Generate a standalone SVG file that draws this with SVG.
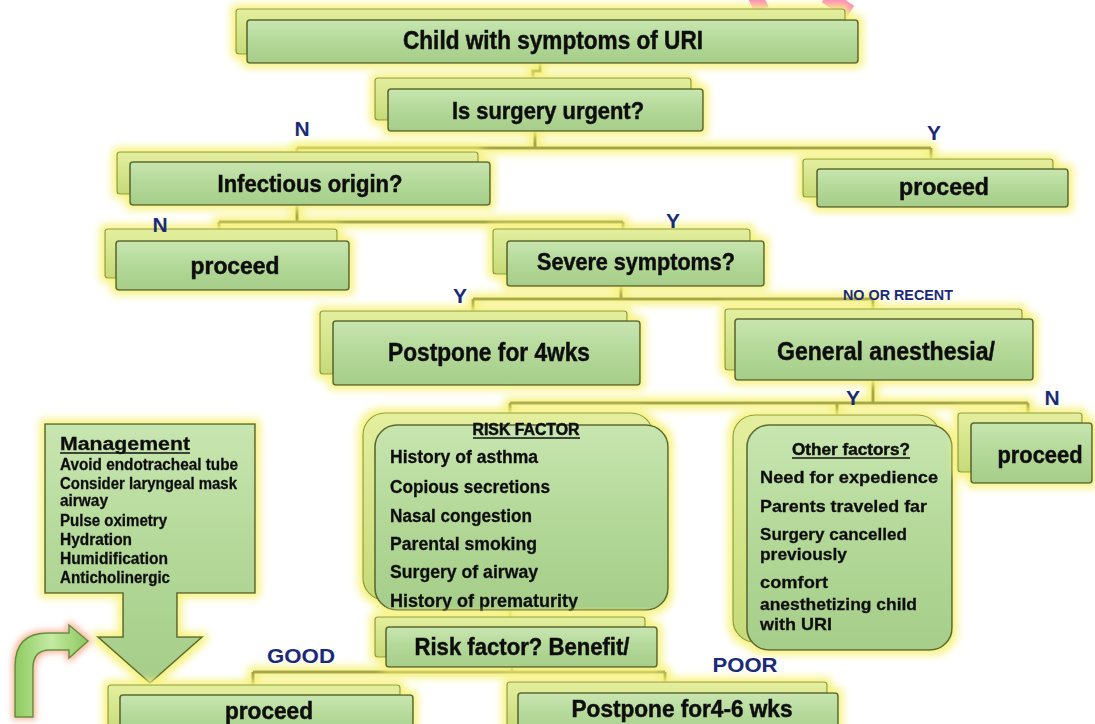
<svg xmlns="http://www.w3.org/2000/svg" width="1095" height="724" viewBox="0 0 1095 724">
<defs>
<linearGradient id="gf" x1="0" y1="0" x2="0" y2="1">
<stop offset="0" stop-color="#c8e6b0"/><stop offset="0.5" stop-color="#b3d898"/><stop offset="1" stop-color="#a6cd89"/>
</linearGradient>
<linearGradient id="gb" x1="0" y1="0" x2="0" y2="1">
<stop offset="0" stop-color="#e4ef9e"/><stop offset="1" stop-color="#c6da78"/>
</linearGradient>
<linearGradient id="ga" x1="0" y1="0" x2="1" y2="0">
<stop offset="0" stop-color="#8fcb62"/><stop offset="0.5" stop-color="#c4eaa3"/><stop offset="1" stop-color="#8cc75e"/>
</linearGradient>
<filter id="glow" x="-10%" y="-20%" width="120%" height="140%">
<feMorphology in="SourceAlpha" operator="dilate" radius="4" result="d"/>
<feGaussianBlur in="d" stdDeviation="4.5" result="b"/>
<feFlood flood-color="#f6f27c"/>
<feComposite in2="b" operator="in" result="g"/>
<feMerge><feMergeNode in="g"/><feMergeNode in="SourceGraphic"/></feMerge>
</filter>
<filter id="oglow" x="-30%" y="-30%" width="160%" height="160%">
<feMorphology in="SourceAlpha" operator="dilate" radius="2" result="d"/>
<feGaussianBlur in="d" stdDeviation="3" result="b"/>
<feFlood flood-color="#f7b49a"/>
<feComposite in2="b" operator="in" result="g"/>
<feMerge><feMergeNode in="g"/><feMergeNode in="SourceGraphic"/></feMerge>
</filter>
<style>
.bk{fill:url(#gb);stroke:#8c9a3c;stroke-width:1.2}
.fr{fill:url(#gf);stroke:#5d6a32;stroke-width:1.6}
.t{font-family:"Liberation Sans",Arial,sans-serif;font-weight:bold;fill:#111;stroke:#111;stroke-width:0.5;text-anchor:middle}
.s{font-family:"Liberation Sans",Arial,sans-serif;font-weight:bold;fill:#111;stroke:#111;stroke-width:0.3}
.lb{font-family:"Liberation Sans",Arial,sans-serif;font-weight:bold;fill:#1b2a78;text-anchor:middle}
.cn{fill:none;stroke:#a4a646;stroke-width:3}
.ul{stroke:#111;stroke-width:1.3}
</style>
</defs>
<rect width="1095" height="724" fill="#ffffff"/>
<g id="pink" stroke="#ff80c4" stroke-width="15" stroke-linecap="butt" fill="none">
<line x1="755" y1="-4" x2="762" y2="10"/>
<line x1="826" y1="-4" x2="850" y2="12"/>
</g>
<g id="connectors" filter="url(#glow)">
<path class="cn" d="M540 63 V71 H533 V78"/>
<path class="cn" d="M535 131 V148 M297 148 H931 M297 148 V153 M931 148 V160"/>
<path class="cn" d="M297 205 V222 M219 222 H623 M219 222 V230 M623 222 V230"/>
<path class="cn" d="M621 286 V299 M473 299 H873 M473 299 V312 M873 299 V310"/>
<path class="cn" d="M873 380 V403 M510 403 H1028 M510 403 V414 M837 403 V416 M1028 403 V414"/>
<path class="cn" d="M510 610 V618"/>
<path class="cn" d="M512 667 V672 M253 672 H665 M253 672 V686 M665 672 V683"/>
</g>
<g id="n-child" filter="url(#glow)">
<rect class="bk" x="236" y="9" width="609" height="45" rx="3"/>
<rect class="fr" x="247" y="20" width="611" height="43" rx="3"/>
<text class="t" x="553" y="49" font-size="25" textLength="300" lengthAdjust="spacingAndGlyphs">Child with symptoms of URI</text>
</g>
<g id="n-urgent" filter="url(#glow)">
<rect class="bk" x="375" y="78" width="316" height="42" rx="3"/>
<rect class="fr" x="388" y="89" width="315" height="42" rx="3"/>
<text class="t" x="548" y="119" font-size="24" textLength="192" lengthAdjust="spacingAndGlyphs">Is surgery urgent?</text>
</g>
<g id="n-infect" filter="url(#glow)">
<rect class="bk" x="117" y="152" width="361" height="42" rx="3"/>
<rect class="fr" x="130" y="162" width="360" height="43" rx="3"/>
<text class="t" x="310" y="192" font-size="24" textLength="185" lengthAdjust="spacingAndGlyphs">Infectious origin?</text>
</g>
<g id="n-proceed1" filter="url(#glow)">
<rect class="bk" x="803" y="159" width="250" height="38" rx="3"/>
<rect class="fr" x="817" y="169" width="251" height="38" rx="3"/>
<text class="t" x="944" y="195" font-size="24" textLength="90" lengthAdjust="spacingAndGlyphs">proceed</text>
</g>
<g id="n-proceed2" filter="url(#glow)">
<rect class="bk" x="105" y="229" width="232" height="49" rx="3"/>
<rect class="fr" x="116" y="241" width="233" height="49" rx="3"/>
<text class="t" x="235" y="274" font-size="24" textLength="89" lengthAdjust="spacingAndGlyphs">proceed</text>
</g>
<g id="n-severe" filter="url(#glow)">
<rect class="bk" x="493" y="229" width="257" height="45" rx="3"/>
<rect class="fr" x="507" y="241" width="257" height="45" rx="3"/>
<text class="t" x="636" y="270" font-size="24" textLength="198" lengthAdjust="spacingAndGlyphs">Severe symptoms?</text>
</g>
<g id="n-postpone4" filter="url(#glow)">
<rect class="bk" x="320" y="311" width="307" height="63" rx="3"/>
<rect class="fr" x="333" y="321" width="307" height="64" rx="3"/>
<text class="t" x="489" y="361" font-size="26" textLength="202" lengthAdjust="spacingAndGlyphs">Postpone for 4wks</text>
</g>
<g id="n-ga" filter="url(#glow)">
<rect class="bk" x="725" y="309" width="297" height="61" rx="3"/>
<rect class="fr" x="735" y="319" width="298" height="61" rx="3"/>
<text class="t" x="886" y="360" font-size="26" textLength="218" lengthAdjust="spacingAndGlyphs">General anesthesia/</text>
</g>
<g id="n-risk" filter="url(#glow)">
<rect class="bk" x="363" y="413" width="290" height="187" rx="22"/>
<rect class="fr" x="375" y="425" width="293" height="185" rx="22"/>
<text class="t" x="526" y="435" font-size="16" textLength="107" lengthAdjust="spacingAndGlyphs">RISK FACTOR</text>
<line class="ul" x1="473" y1="438" x2="580" y2="438"/>
<text class="s" x="390" y="463" font-size="18" textLength="148" lengthAdjust="spacingAndGlyphs">History of asthma</text>
<text class="s" x="390" y="493" font-size="18" textLength="160" lengthAdjust="spacingAndGlyphs">Copious secretions</text>
<text class="s" x="390" y="522" font-size="18" textLength="142" lengthAdjust="spacingAndGlyphs">Nasal congestion</text>
<text class="s" x="390" y="550" font-size="18" textLength="147" lengthAdjust="spacingAndGlyphs">Parental smoking</text>
<text class="s" x="390" y="578" font-size="18" textLength="148" lengthAdjust="spacingAndGlyphs">Surgery of airway</text>
<text class="s" x="390" y="607" font-size="18" textLength="188" lengthAdjust="spacingAndGlyphs">History of prematurity</text>
</g>
<g id="n-other" filter="url(#glow)">
<rect class="bk" x="733" y="415" width="207" height="227" rx="22"/>
<rect class="fr" x="747" y="425" width="205" height="225" rx="22"/>
<text class="t" x="851" y="455" font-size="17" textLength="118" lengthAdjust="spacingAndGlyphs">Other factors?</text>
<line class="ul" x1="792" y1="458" x2="910" y2="458"/>
<text class="s" x="760" y="483" font-size="17" textLength="178" lengthAdjust="spacingAndGlyphs">Need  for expedience</text>
<text class="s" x="760" y="512" font-size="17" textLength="167" lengthAdjust="spacingAndGlyphs">Parents traveled far</text>
<text class="s" x="760" y="540" font-size="17" textLength="147" lengthAdjust="spacingAndGlyphs">Surgery cancelled</text>
<text class="s" x="760" y="560" font-size="17" textLength="87" lengthAdjust="spacingAndGlyphs">previously</text>
<text class="s" x="760" y="588" font-size="17" textLength="68" lengthAdjust="spacingAndGlyphs">comfort</text>
<text class="s" x="760" y="610" font-size="17" textLength="157" lengthAdjust="spacingAndGlyphs">anesthetizing child</text>
<text class="s" x="760" y="630" font-size="17" textLength="72" lengthAdjust="spacingAndGlyphs">with URI</text>
</g>
<g id="n-proceed3" filter="url(#glow)">
<rect class="bk" x="958" y="413" width="124" height="59" rx="3"/>
<rect class="fr" x="971" y="423" width="121" height="60" rx="3"/>
<text class="t" x="1040" y="463" font-size="24" textLength="85" lengthAdjust="spacingAndGlyphs">proceed</text>
</g>
<g id="n-benefit" filter="url(#glow)">
<rect class="bk" x="375" y="617" width="270" height="40" rx="3"/>
<rect class="fr" x="386" y="627" width="271" height="40" rx="3"/>
<text class="t" x="522" y="655" font-size="24" textLength="215" lengthAdjust="spacingAndGlyphs">Risk factor? Benefit/</text>
</g>
<g id="n-management" filter="url(#glow)">
<path class="fr" d="M45 424 H255 V593 H177 V637 H202 L150 683 L98 637 H123 V593 H45 Z"/>
<text class="s" x="60" y="450" font-size="18" textLength="130" lengthAdjust="spacingAndGlyphs">Management</text>
<line class="ul" x1="60" y1="453" x2="190" y2="453"/>
<text class="s" x="60" y="470" font-size="16" textLength="178" lengthAdjust="spacingAndGlyphs">Avoid endotracheal tube</text>
<text class="s" x="60" y="489" font-size="16" textLength="177" lengthAdjust="spacingAndGlyphs">Consider laryngeal mask</text>
<text class="s" x="60" y="506" font-size="16" textLength="48" lengthAdjust="spacingAndGlyphs">airway</text>
<text class="s" x="60" y="526" font-size="16" textLength="107" lengthAdjust="spacingAndGlyphs">Pulse oximetry</text>
<text class="s" x="60" y="545" font-size="16" textLength="72" lengthAdjust="spacingAndGlyphs">Hydration</text>
<text class="s" x="60" y="564" font-size="16" textLength="108" lengthAdjust="spacingAndGlyphs">Humidification</text>
<text class="s" x="60" y="583" font-size="16" textLength="110" lengthAdjust="spacingAndGlyphs">Anticholinergic</text>
</g>
<g id="n-proceed4" filter="url(#glow)">
<rect class="bk" x="108" y="685" width="292" height="50" rx="3"/>
<rect class="fr" x="120" y="695" width="293" height="45" rx="3"/>
<text class="t" x="269" y="719" font-size="24" textLength="88" lengthAdjust="spacingAndGlyphs">proceed</text>
</g>
<g id="n-postpone46" filter="url(#glow)">
<rect class="bk" x="507" y="682" width="320" height="50" rx="3"/>
<rect class="fr" x="518" y="693" width="320" height="47" rx="3"/>
<text class="t" x="682" y="717" font-size="24" textLength="221" lengthAdjust="spacingAndGlyphs">Postpone for4-6 wks</text>
</g>
<g id="bent-arrow" filter="url(#oglow)">
<path d="M15 717 V666 Q15 633 48 633 H69 V625 L88 641 L69 658 V650 H50 Q33 650 33 668 V717 Z" fill="url(#ga)" stroke="#5f8f3a" stroke-width="1.5"/>
</g>
<g id="labels">
<text class="lb" x="302" y="136" font-size="21">N</text>
<text class="lb" x="934" y="140" font-size="21">Y</text>
<text class="lb" x="160" y="232" font-size="21">N</text>
<text class="lb" x="673" y="228" font-size="21">Y</text>
<text class="lb" x="460" y="303" font-size="21">Y</text>
<text class="lb" x="898" y="300" font-size="15" textLength="110" lengthAdjust="spacingAndGlyphs">NO OR RECENT</text>
<text class="lb" x="853" y="405" font-size="21">Y</text>
<text class="lb" x="1052" y="405" font-size="21">N</text>
<text class="lb" x="301" y="663" font-size="21" textLength="68" lengthAdjust="spacingAndGlyphs">GOOD</text>
<text class="lb" x="745" y="672" font-size="21" textLength="65" lengthAdjust="spacingAndGlyphs">POOR</text>
</g>
</svg>
